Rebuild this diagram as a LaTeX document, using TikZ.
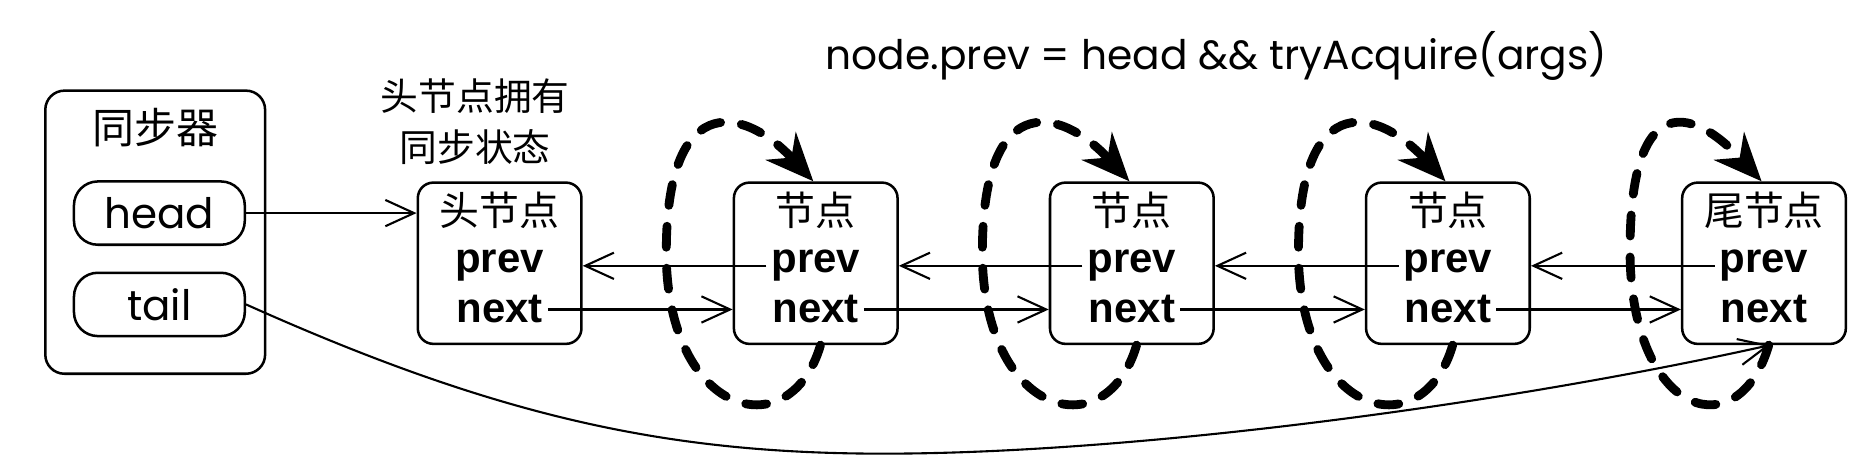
\documentclass[tikz,border=0pt]{standalone}
\usepackage{fontspec}
\setmainfont{Poppins}
\newfontfamily\cjk{Noto Sans CJK SC}
\newfontfamily\tebal{Liberation Sans}
\usetikzlibrary{arrows.meta, positioning, calc}

\begin{document}
\begin{tikzpicture}[
    x=0.01cm, y=-0.01cm,
    node distance=0.5cm and 1.255cm,
    wadah/.style={draw, rounded corners=0.16cm, minimum width=1.84cm, minimum height=2.37cm, line width=0.6pt},
    isian/.style={draw, rounded corners=0.2cm, minimum width=1.43cm, minimum height=0.53cm,
                  inner sep=0pt, line width=0.6pt, font=\fontsize{10}{12}\selectfont},
    simpul/.style={draw, rounded corners=0.13cm, minimum width=1.37cm, minimum height=1.35cm, line width=0.6pt},
    judul/.style={inner sep=0pt, anchor=base, font=\cjk\fontsize{9.5}{11}\selectfont},
    medan/.style={inner sep=1pt, anchor=base, font=\tebal\bfseries\fontsize{10}{12}\selectfont},
    panah/.style={-{Straight Barb[length=2.4mm, width=2.2mm]}, line width=0.5pt},
    putus/.style={-{Stealth[length=4mm, width=3.4mm, inset=1.3mm]}, line width=2.1pt,
                  dash pattern=on 5pt off 5pt, line cap=round}
  ]
    \useasboundingbox (0,0) rectangle (1568,395);

    % sinkronisasi
    \node[wadah] (sync) at (130,194.5) {};
    \node[judul, font=\cjk\fontsize{10}{12}\selectfont] at ([yshift=0.74cm]sync.center) {同步器};
    \node[isian] (head) at (133.5,178.5) {head};
    \node[isian] (tail) at (133.5,255) {tail};

    % antrean
    \node[simpul] (s0) at (418.5,220.5) {};
    \node[simpul, right=of s0] (s1) {};
    \node[simpul, right=of s1] (s2) {};
    \node[simpul, right=of s2] (s3) {};
    \node[simpul, right=of s3] (s4) {};

    \node[judul] at ([yshift=0.32cm]s0.center) {头节点};
    \node[medan] (p0) at ([yshift=-0.08cm]s0.center) {prev};
    \node[medan] (n0) at ([yshift=-0.5cm]s0.center) {next};
    \node[judul] at ([yshift=0.32cm]s1.center) {节点};
    \node[medan] (p1) at ([yshift=-0.08cm]s1.center) {prev};
    \node[medan] (n1) at ([yshift=-0.5cm]s1.center) {next};
    \node[judul] at ([yshift=0.32cm]s2.center) {节点};
    \node[medan] (p2) at ([yshift=-0.08cm]s2.center) {prev};
    \node[medan] (n2) at ([yshift=-0.5cm]s2.center) {next};
    \node[judul] at ([yshift=0.32cm]s3.center) {节点};
    \node[medan] (p3) at ([yshift=-0.08cm]s3.center) {prev};
    \node[medan] (n3) at ([yshift=-0.5cm]s3.center) {next};
    \node[judul] at ([yshift=0.32cm]s4.center) {尾节点};
    \node[medan] (p4) at ([yshift=-0.08cm]s4.center) {prev};
    \node[medan] (n4) at ([yshift=-0.5cm]s4.center) {next};

    \node[align=center, font=\cjk\fontsize{9}{12.2}\selectfont] (ket) at (398,102) {头节点拥有\\同步状态};
    \node[font=\fontsize{9.7}{12}\selectfont] (syarat) at (1019,47) {node.prev = head \&\& tryAcquire(args)};

    % penunjuk
    \draw[panah] (head.east) -- (s0.west |- head.east);
    \draw[panah] (n0.east) -- (s1.west |- n0.east);
    \draw[panah] (n1.east) -- (s2.west |- n1.east);
    \draw[panah] (n2.east) -- (s3.west |- n2.east);
    \draw[panah] (n3.east) -- (s4.west |- n3.east);
    \draw[panah] (p1.west) -- (s0.east |- p1.west);
    \draw[panah] (p2.west) -- (s1.east |- p2.west);
    \draw[panah] (p3.west) -- (s2.east |- p3.west);
    \draw[panah] (p4.west) -- (s3.east |- p4.west);
    \coordinate (lembah) at (740,380);
    \draw[panah] (tail.east) .. controls +(212,95) and +(-180,0) .. (lembah)
      .. controls +(210,0) and +(-225,50) .. ([xshift=0.05cm]s4.south);

    % putaran tryAcquire
    \draw[putus] ([xshift=0.04cm]s1.south) .. controls +(-25,85) and +(5,130) .. ([xshift=-1.25cm]s1.center)
      .. controls +(-3,-145) and +(-60,-65) .. ([xshift=-0.02cm]s1.north);
    \draw[putus] ([xshift=0.04cm]s2.south) .. controls +(-25,85) and +(5,130) .. ([xshift=-1.25cm]s2.center)
      .. controls +(-3,-145) and +(-60,-65) .. ([xshift=-0.02cm]s2.north);
    \draw[putus] ([xshift=0.04cm]s3.south) .. controls +(-25,85) and +(5,130) .. ([xshift=-1.25cm]s3.center)
      .. controls +(-3,-145) and +(-60,-65) .. ([xshift=-0.02cm]s3.north);
    \draw[putus] ([xshift=0.04cm]s4.south) .. controls +(-25,85) and +(5,130) .. ([xshift=-1.12cm]s4.center)
      .. controls +(-3,-145) and +(-60,-65) .. ([xshift=-0.02cm]s4.north);
  \end{tikzpicture}
\end{document}
